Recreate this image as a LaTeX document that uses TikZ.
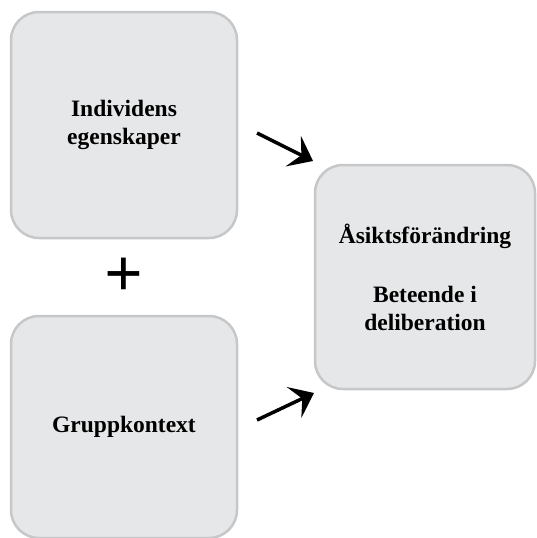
\documentclass[tikz,border=0pt]{standalone}
\usepackage{fontspec}
\setmainfont{Liberation Serif}
\usetikzlibrary{positioning,arrows.meta}
\definecolor{boxfill}{HTML}{E6E7E8}
\definecolor{boxline}{HTML}{C6C7C9}

\begin{document}
\begin{tikzpicture}[x=1pt,y=-1pt,
  box/.style={shape=rectangle,rounded corners=28pt,draw=boxline,fill=boxfill,line width=2.5pt,
    align=center,font=\bfseries\fontsize{23.5}{28}\selectfont,inner sep=0pt},
  pointer/.style={line width=3.5pt,-{Stealth[length=22pt,width=34pt,inset=9pt]}}]
  \useasboundingbox (0,0) rectangle (536,538);
  \node[box,minimum width=226pt,minimum height=226pt] (0) at (124,125) {Individens\\egenskaper};
  \node[box,minimum width=226pt,minimum height=222pt] (1) at (124,427) {Gruppkontext};
  \node[box,minimum width=220pt,minimum height=224pt] (2) at (425,277) {Åsiktsförändring\\[31pt]Beteende i\\deliberation};
  \node[font=\bfseries\fontsize{68}{68}\selectfont,inner sep=0pt] (plus) at (124,277) {+};
  \coordinate (a0) at (257,133);
  \coordinate (b0) at (313,161);
  \coordinate (a1) at (257,420);
  \coordinate (b1) at (314,393);
  \path [pointer](a0) edge (b0);
  \path [pointer](a1) edge (b1);
\end{tikzpicture}
\end{document}
